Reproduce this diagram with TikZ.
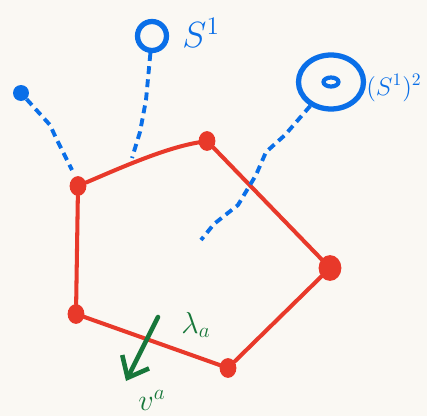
\documentclass[tikz,border=0pt]{standalone}
\usepackage{amsmath,amssymb}
\usepackage{xcolor}
\usetikzlibrary{arrows.meta,positioning,calc,shapes.geometric}
\definecolor{paper}{HTML}{FAF8F3}
\definecolor{polyred}{HTML}{E8392A}
\definecolor{penblue}{HTML}{0A6FE8}
\definecolor{pengreen}{HTML}{17773A}
\tikzset{
  Vtx/.style={ellipse, draw=polyred, fill=polyred, line width=1pt,
              minimum width=0.3cm, minimum height=0.36cm, inner sep=0pt},
  Edge/.style={draw=polyred, line width=2.3pt, line cap=round},
  Dash/.style={draw=penblue, line width=2.2pt, dash pattern=on 4.5pt off 3pt},
  Ring/.style={ellipse, draw=penblue, line width=3pt, inner sep=0pt},
  Lbl/.style={font=\huge, text=penblue, inner sep=0pt},
  Garr/.style={draw=pengreen, line width=2.6pt, line cap=round,
               -{Straight Barb[length=3.6mm,width=6mm,line width=2.6pt]}}
}

\begin{document}
\begin{tikzpicture}[x=0.02cm, y=-0.02cm]
  \fill[paper] (0,0) rectangle (427,416);
  \useasboundingbox (0,0) rectangle (427,416);

  % polygon vertices
  \node[Vtx] (a) at (78,186) {};
  \node[Vtx] (b) at (207,141) {};
  \node[Vtx, minimum width=0.42cm, minimum height=0.48cm] (c) at (330,268) {};
  \node[Vtx] (d) at (228,368) {};
  \node[Vtx] (e) at (76,314) {};

  \draw[Edge] (a) .. controls (120,168) and (165,148) .. (b);
  \draw[Edge] (b) -- (c);
  \draw[Edge] (c) -- (d);
  \draw[Edge] (d) -- (e);
  \draw[Edge] (e) -- (a);

  % the point and the two circles
  \node[circle, fill=penblue, minimum size=0.32cm, inner sep=0pt] (pt) at (21,93) {};
  \node[Ring, minimum width=0.58cm, minimum height=0.58cm] (s1) at (152,36) {};
  \node[Lbl, right=0.26cm of s1, yshift=2pt] (s1lbl) {$S^1$};
  \node[Ring, minimum width=1.3cm, minimum height=1.08cm] (t2) at (331,82) {};
  \node[ellipse, draw=penblue, line width=2.4pt, minimum width=0.3cm,
        minimum height=0.18cm, inner sep=0pt] (t2in) at (t2.center) {};
  \node[Lbl, font=\Large, anchor=west] (t2lbl) at (366,88) {$(S^1)^2$};

  % dashed maps onto the polygon
  \coordinate (p1) at (72,170);
  \coordinate (p2) at (132,158);
  \coordinate (p3) at (201,240);
  \draw[Dash] (pt) -- (50,125) -- (56,138) -- (p1);
  \draw[Dash] (s1) -- (146,100) -- (140,132) -- (p2);
  \draw[Dash] (t2) -- (285,135) -- (266,152) -- (256,175)
              -- (238,205) -- (214,224) -- (p3);

  % eigen direction
  \coordinate (g1) at (158,317);
  \coordinate (g2) at (126,381);
  \draw[Garr] (g1) -- (g2);
  \node[font=\LARGE, text=pengreen] (lam) at (196,325) {$\lambda_a$};
  \node[font=\LARGE, text=pengreen] (va) at (152,400) {$v^a$};
\end{tikzpicture}
\end{document}
